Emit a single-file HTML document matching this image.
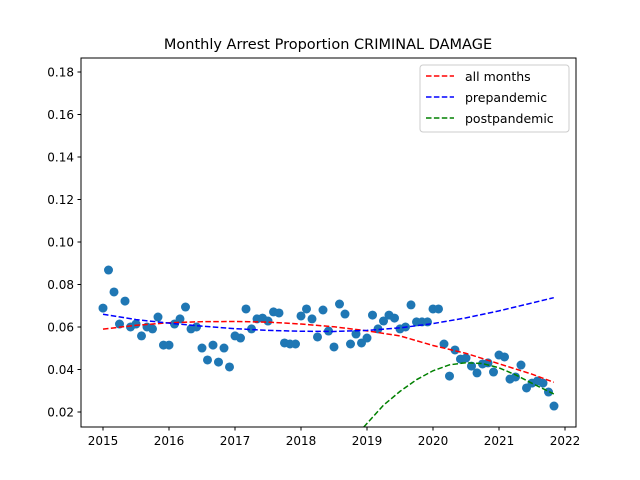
<!DOCTYPE html>
<html><head><meta charset="utf-8"><style>body{margin:0;background:#fff}svg{display:block;font-family:"DejaVu Sans","Liberation Sans",sans-serif}</style></head>
<body>
<svg id="chart" width="640" height="480" xmlns="http://www.w3.org/2000/svg">
<rect width="640" height="480" fill="#fff"/>
<text x="328" y="49" font-size="14.5" text-anchor="middle">Monthly Arrest Proportion CRIMINAL DAMAGE</text>
<g id="marks"></g>
<rect x="81" y="58" width="495" height="369" fill="none" stroke="#000" stroke-width="1"/>
<g id="axes" font-size="12"></g>
<g>
<rect x="420" y="65" width="149" height="67" rx="3" fill="#fff" fill-opacity="0.8" stroke="#ccc"/>
<line x1="426" y1="76" x2="454" y2="76" stroke="red" stroke-width="1.5" stroke-dasharray="5.5,2.4"/>
<text x="465" y="81" font-size="12.5">all months</text>
<line x1="426" y1="97" x2="454" y2="97" stroke="blue" stroke-width="1.5" stroke-dasharray="5.5,2.4"/>
<text x="465" y="102" font-size="12.5">prepandemic</text>
<line x1="426" y1="118" x2="454" y2="118" stroke="green" stroke-width="1.5" stroke-dasharray="5.5,2.4"/>
<text x="465" y="123" font-size="12.5">postpandemic</text>
</g>
</svg>
<script>
const startYear = 2015;
const values = [0.0689,0.0868,0.0765,0.0614,0.0722,0.060,0.0614,0.0558,0.060,0.0591,0.0647,0.0515,0.0515,0.0614,0.0638,0.0694,0.0591,0.060,0.0501,0.0445,0.0515,0.0435,0.0501,0.0412,0.0558,0.0548,0.0685,0.0591,0.0638,0.0642,0.0628,0.0671,0.0666,0.0525,0.052,0.052,0.0652,0.0685,0.0638,0.0553,0.068,0.0581,0.0506,0.0708,0.0661,0.052,0.0567,0.0525,0.0548,0.0656,0.0591,0.0628,0.0656,0.0642,0.0591,0.060,0.0704,0.0624,0.0624,0.0624,0.0685,0.0685,0.052,0.0369,0.0492,0.0449,0.0454,0.0416,0.0384,0.0426,0.0431,0.0388,0.0468,0.0459,0.0355,0.0365,0.0421,0.0313,0.0336,0.0346,0.0336,0.0294,0.0228];
const allYears = [2015,2015.5,2016,2016.5,2017,2017.5,2018,2018.5,2019,2019.5,2020,2020.5,2021,2021.5,2021.83];
const allFit = [0.059,0.0608,0.0620,0.0625,0.0626,0.0623,0.0614,0.0601,0.0582,0.0558,0.0513,0.0476,0.0427,0.0378,0.0340];
const preYears = [2015,2015.5,2016,2016.5,2017,2017.5,2018,2018.5,2019,2019.5,2020,2020.5,2021,2021.5,2021.83];
const preFit = [0.066,0.0635,0.0618,0.0604,0.0592,0.0584,0.058,0.0579,0.0584,0.0596,0.0616,0.0643,0.0676,0.0713,0.0738];
const postYears = [2018.95,2019.25,2019.5,2019.75,2020,2020.25,2020.5,2020.75,2021,2021.25,2021.5,2021.83];
const postFit = [0.0129,0.0232,0.0297,0.0352,0.0394,0.0422,0.0432,0.0428,0.0408,0.0375,0.0335,0.0285];
const xTicks = [2015,2016,2017,2018,2019,2020,2021,2022];
const yTicks = [0.02,0.04,0.06,0.08,0.10,0.12,0.14,0.16,0.18];
const yTickLabels = ["0.02","0.04","0.06","0.08","0.10","0.12","0.14","0.16","0.18"];

const NS="http://www.w3.org/2000/svg";
const X = yr => 103 + (yr-2015)*66;
const Y = v => 412 - (v-0.02)*2125;
const marks=document.getElementById('marks');
const axes=document.getElementById('axes');
function mk(tag,attrs,parent){const e=document.createElementNS(NS,tag);for(const k in attrs)e.setAttribute(k,attrs[k]);parent.appendChild(e);return e;}

const clip=mk('clipPath',{id:'pc'},marks);mk('rect',{x:81,y:58,width:495,height:369},clip);
const g=mk('g',{'clip-path':'url(#pc)'},marks);
values.forEach((v,i)=>{
  const c=mk('circle',{cx:X(startYear+i/12),cy:Y(v),r:4.5,fill:'#1f77b4'},g);
  
  
});
function line(xs,ys,color,name){
  const p=mk('polyline',{points:xs.map((x,i)=>X(x)+','+Y(ys[i])).join(' '),fill:'none',stroke:color,'stroke-width':1.5,'stroke-dasharray':'5.5,2.4'},g);
  
  
}
line(allYears,allFit,'red','fit-all-months');
line(preYears,preFit,'blue','fit-prepandemic');
line(postYears,postFit,'green','fit-postpandemic');

xTicks.forEach(t=>{
  mk('line',{x1:X(t),x2:X(t),y1:427,y2:430.5,stroke:'#000'},axes);
  const tx=mk('text',{x:X(t),y:445,'text-anchor':'middle'},axes);tx.textContent=t;
  
  
});
yTicks.forEach((t,i)=>{
  mk('line',{x1:77.5,x2:81,y1:Y(t),y2:Y(t),stroke:'#000'},axes);
  const tx=mk('text',{x:74,y:Y(t)+4.5,'text-anchor':'end'},axes);tx.textContent=yTickLabels[i];
  
  
});
</script>
</body></html>
